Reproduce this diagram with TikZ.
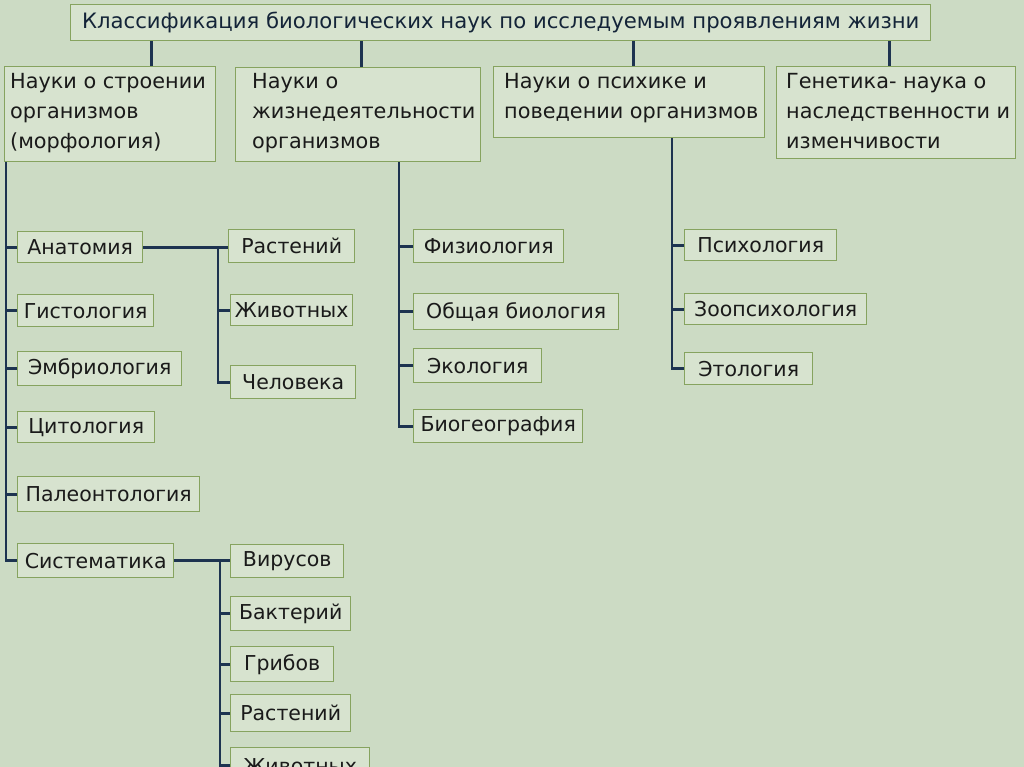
\documentclass[tikz,border=0pt]{standalone}
\usepackage{fontspec}
\setmainfont{DejaVu Sans}
\definecolor{bgc}{HTML}{CCDBC4}
\definecolor{boxc}{HTML}{D7E3CF}
\definecolor{bdc}{HTML}{86A35F}
\definecolor{lnc}{HTML}{1D3350}
\definecolor{txc}{HTML}{1A1A1A}
\begin{document}
\begin{tikzpicture}[x=1pt,y=-1pt,
  box/.style={draw=bdc, fill=boxc, line width=1.4pt, inner sep=0pt, anchor=north west,
    text=txc, font=\fontsize{20.5}{30}\selectfont},
  mbox/.style={box, align=left, anchor=north west},
  mtext/.style={anchor=north west, align=left, inner sep=0pt, text=txc, font=\fontsize{20.8}{30}\selectfont},
  conn/.style={draw=lnc, line width=2.8pt}]
\fill[bgc] (0,0) rectangle (1024,767);
\useasboundingbox (0,0) rectangle (1024,767);
\clip (0,0) rectangle (1024,767);

% title
\node[box, minimum width=860pt, minimum height=36pt, font=\fontsize{21.2}{24}\selectfont, text=lnc!70!black] (title) at (70,4) {Классификация биологических наук по исследуемым проявлениям жизни};

% level 1
\node[mbox, minimum width=211pt, minimum height=95pt] (b1) at (4,66) {};
\node[mtext] (b1t) at (10,73) {Науки о строении\\организмов\\(морфология)};
\node[mbox, minimum width=245pt, minimum height=94pt] (b2) at (235,67) {};
\node[mtext] (b2t) at (252,73) {Науки о\\жизнедеятельности\\организмов};
\node[mbox, minimum width=271pt, minimum height=71pt] (b3) at (493,66) {};
\node[mtext] (b3t) at (504,73) {Науки о психике и\\поведении организмов};
\node[mbox, minimum width=239pt, minimum height=92pt] (b4) at (776,66) {};
\node[mtext] (b4t) at (786,73) {Генетика- наука о\\наследственности и\\изменчивости};

% left column
\node[box, minimum width=125pt, minimum height=31pt] (anat) at (17,231) {Анатомия};
\node[box, minimum width=136pt, minimum height=32pt] (gist) at (17,294) {Гистология};
\node[box, minimum width=164pt, minimum height=34pt] (embr) at (17,351) {Эмбриология};
\node[box, minimum width=137pt, minimum height=31pt] (cito) at (17,411) {Цитология};
\node[box, minimum width=182pt, minimum height=35pt] (paleo) at (17,476) {Палеонтология};
\node[box, minimum width=156pt, minimum height=34pt] (sys) at (17,543) {Систематика};

% anatomy sub
\node[box, minimum width=126pt, minimum height=33pt] (rast1) at (228,229) {Растений};
\node[box, minimum width=122pt, minimum height=31pt] (zhiv1) at (230,294) {Животных};
\node[box, minimum width=125pt, minimum height=33pt] (chel) at (230,365) {Человека};

% systematics sub
\node[box, minimum width=113pt, minimum height=33pt] (vir) at (230,544) {Вирусов};
\node[box, minimum width=120pt, minimum height=34pt] (bakt) at (230,596) {Бактерий};
\node[box, minimum width=103pt, minimum height=35pt] (grib) at (230,646) {Грибов};
\node[box, minimum width=120pt, minimum height=37pt] (rast2) at (230,694) {Растений};
\node[box, minimum width=139pt, minimum height=36pt] (zhiv2) at (230,747) {Животных};

% middle column
\node[box, minimum width=150pt, minimum height=33pt] (fiz) at (413,229) {Физиология};
\node[box, minimum width=205pt, minimum height=36pt] (obsh) at (413,293) {Общая биология};
\node[box, minimum width=128pt, minimum height=34pt] (eko) at (413,348) {Экология};
\node[box, minimum width=169pt, minimum height=33pt] (biog) at (413,409) {Биогеография};

% right column
\node[box, minimum width=152pt, minimum height=31pt] (psih) at (684,229) {Психология};
\node[box, minimum width=182pt, minimum height=31pt] (zoo) at (684,293) {Зоопсихология};
\node[box, minimum width=128pt, minimum height=32pt] (etol) at (684,352) {Этология};

% title connectors
\draw[conn] ([xshift=41.5pt]b1.north) -- ([xshift=41.5pt]b1.north |- title.south);
\draw[conn] ([xshift=3pt]b2.north) -- ([xshift=3pt]b2.north |- title.south);
\draw[conn] ([xshift=4.5pt]b3.north) -- ([xshift=4.5pt]b3.north |- title.south);
\draw[conn] ([xshift=-6.5pt]b4.north) -- ([xshift=-6.5pt]b4.north |- title.south);

% left trunk
\coordinate (t1) at ([xshift=2pt]b1.south west);
\draw[conn] (t1) |- (sys.west);
\foreach \n in {anat,gist,embr,cito,paleo} \draw[conn] (\n.west) -- (\n.west -| t1);

% anatomy sub trunk
\draw[conn] (anat.east) -- (anat.east -| rast1.west);
\coordinate (s1) at ([xshift=-10pt]anat.east -| rast1.west);
\draw[conn] (s1) |- (chel.west);
\draw[conn] (zhiv1.west) -- (zhiv1.west -| s1);

% systematics sub trunk
\draw[conn] (sys.east) -- (sys.east -| vir.west);
\coordinate (s2) at ([xshift=-10pt]sys.east -| vir.west);
\draw[conn] (s2) |- (zhiv2.west);
\foreach \n in {bakt,grib,rast2} \draw[conn] (\n.west) -- (\n.west -| s2);

% middle trunk
\coordinate (t2) at ([xshift=164pt]b2.south west);
\draw[conn] (t2) |- (biog.west);
\foreach \n in {fiz,obsh,eko} \draw[conn] (\n.west) -- (\n.west -| t2);

% right trunk
\coordinate (t3) at ([xshift=179pt]b3.south west);
\draw[conn] (t3) |- (etol.west);
\foreach \n in {psih,zoo} \draw[conn] (\n.west) -- (\n.west -| t3);
\end{tikzpicture}
\end{document}
